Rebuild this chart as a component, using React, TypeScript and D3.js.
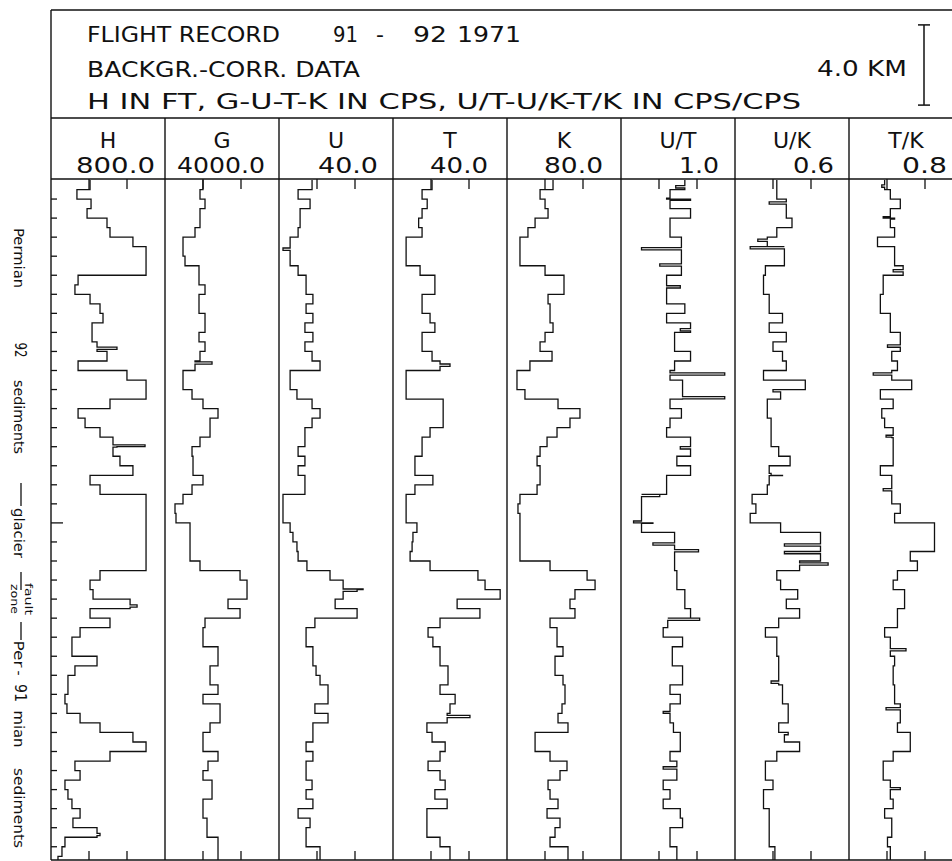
import React from "react";
import * as d3 from "d3";

// flight record 91 - 92, readings every 0.5 km down the flight line
const STEP = 0.5;
const SPIKE_W = 0.12;

const columns = ["H", "G", "U", "T", "K", "U/T", "U/K", "T/K"];
const fullScale = [800, 4000, 40, 40, 80, 1.0, 0.6, 0.8];
const scaleLabels = ["800.0", "4000.0", "40.0", "40.0", "80.0", "1.0", "0.6", "0.8"];

const hFt = [274, 182, 281, 253, 393, 414, 575, 667, 667, 667, 190, 168, 274, 344, 365, 288, 288, 323, 393, 190,
  533, 667, 667, 414, 190, 239, 344, 435, 463, 484, 575, 274, 344, 667, 667, 667, 667, 667, 667, 667,
  667, 344, 274, 295, 555, 274, 414, 204, 147, 147, 323, 168, 119, 119, 98, 112, 204, 344, 575, 667,
  414, 168, 204, 98, 119, 147, 204, 154, 323, 98, 77, 49];
const gCps = [1333, 1228, 1404, 1228, 1228, 1053, 632, 632, 702, 1193, 1193, 1404, 1193, 1193, 1404, 1404, 1193, 1404, 1228, 1053,
  632, 632, 948, 1333, 1860, 1580, 1580, 1228, 948, 983, 983, 1333, 948, 632, 351, 386, 878, 878, 878, 878,
  1228, 2633, 2878, 2878, 2211, 2633, 1404, 1333, 1333, 1860, 1860, 1580, 1580, 1860, 1333, 1931, 1931, 1580, 1333, 1333,
  1860, 1509, 1333, 1650, 1650, 1333, 1333, 1474, 1474, 1860, 1860, 1860];
const uCps = [11.6, 6.7, 10.9, 7.4, 7.4, 6.7, 3.9, 3.9, 3.9, 6.7, 9.5, 9.5, 11.9, 9.5, 11.9, 9.1, 11.9, 9.1, 11.6, 14.4,
  3.9, 3.9, 6.3, 11.6, 14.4, 11.6, 9.1, 9.1, 6.7, 9.1, 6.7, 9.1, 9.1, 1.4, 1.4, 1.4, 3.9, 4.9, 6.3, 6.7,
  9.8, 17.9, 22.5, 27.4, 19.7, 27.4, 12.6, 9.5, 9.5, 11.9, 11.9, 13.0, 14.4, 17.2, 17.2, 12.6, 17.2, 11.9, 11.9, 9.5,
  11.9, 9.5, 9.5, 11.6, 9.5, 11.9, 6.7, 10.9, 9.5, 9.5, 14.4, 14.4];
const tCps = [13.7, 10.2, 12.0, 10.2, 9.0, 10.2, 4.6, 4.6, 4.6, 9.5, 14.7, 14.7, 10.2, 10.2, 13.0, 14.7, 10.2, 10.2, 13.7, 16.5,
  4.6, 4.6, 4.6, 17.6, 17.6, 17.6, 13.0, 10.2, 10.2, 7.7, 7.7, 14.0, 7.7, 4.6, 4.6, 4.6, 8.4, 7.0, 6.7, 6.0,
  13.0, 29.8, 32.3, 37.6, 22.5, 30.5, 16.5, 12.3, 14.0, 16.5, 16.5, 19.3, 19.3, 16.5, 21.8, 20.0, 19.0, 11.9, 13.7, 18.3,
  16.5, 12.3, 16.5, 18.3, 14.7, 19.0, 11.9, 11.9, 11.9, 16.5, 20.0, 20.0];
const kCps = [32.3, 23.2, 26.7, 28.8, 19.7, 14.7, 9.1, 9.1, 9.1, 26.7, 40.0, 40.0, 28.8, 30.2, 30.2, 32.3, 26.7, 23.2, 31.6, 16.1,
  7.0, 7.0, 12.6, 35.8, 51.2, 44.2, 35.1, 28.1, 23.2, 21.1, 23.2, 23.2, 21.1, 9.1, 7.7, 9.1, 9.1, 9.1, 9.1, 9.1,
  30.2, 56.2, 61.8, 47.7, 44.2, 47.7, 30.2, 35.1, 35.1, 39.3, 33.7, 33.7, 39.3, 40.7, 40.7, 38.6, 35.8, 42.8, 19.7, 19.7,
  30.2, 42.1, 37.2, 28.8, 30.2, 35.8, 28.1, 37.2, 33.7, 30.2, 42.8, 42.8];
const utRatio = [0.56, 0.43, 0.61, 0.61, 0.43, 0.43, 0.53, 0.53, 0.53, 0.34, 0.40, 0.40, 0.40, 0.56, 0.40, 0.61, 0.47, 0.47, 0.61, 0.47,
  0.43, 0.54, 0.54, 0.43, 0.53, 0.43, 0.40, 0.61, 0.61, 0.49, 0.61, 0.40, 0.40, 0.18, 0.18, 0.18, 0.28, 0.47, 0.47, 0.68,
  0.47, 0.49, 0.49, 0.56, 0.56, 0.61, 0.41, 0.37, 0.54, 0.45, 0.45, 0.54, 0.54, 0.43, 0.52, 0.43, 0.43, 0.46, 0.52, 0.52,
  0.43, 0.49, 0.49, 0.37, 0.43, 0.37, 0.52, 0.54, 0.43, 0.43, 0.49, 0.49];
const ukRatio = [0.22, 0.22, 0.27, 0.27, 0.30, 0.22, 0.17, 0.26, 0.26, 0.16, 0.15, 0.15, 0.18, 0.18, 0.25, 0.18, 0.27, 0.20, 0.25, 0.27,
  0.15, 0.37, 0.24, 0.17, 0.17, 0.19, 0.19, 0.19, 0.23, 0.29, 0.18, 0.25, 0.17, 0.09, 0.11, 0.08, 0.24, 0.45, 0.45, 0.45,
  0.34, 0.22, 0.24, 0.33, 0.27, 0.34, 0.23, 0.16, 0.22, 0.22, 0.23, 0.23, 0.23, 0.25, 0.25, 0.28, 0.28, 0.23, 0.26, 0.34,
  0.22, 0.16, 0.16, 0.20, 0.15, 0.15, 0.18, 0.18, 0.18, 0.18, 0.21, 0.21];
const tkRatio = [0.25, 0.29, 0.36, 0.29, 0.32, 0.32, 0.20, 0.32, 0.32, 0.38, 0.24, 0.24, 0.22, 0.22, 0.29, 0.29, 0.36, 0.36, 0.30, 0.34,
  0.30, 0.44, 0.22, 0.31, 0.23, 0.25, 0.31, 0.30, 0.31, 0.31, 0.22, 0.30, 0.30, 0.30, 0.36, 0.32, 0.60, 0.60, 0.60, 0.43,
  0.48, 0.34, 0.31, 0.39, 0.39, 0.34, 0.34, 0.25, 0.29, 0.29, 0.32, 0.31, 0.31, 0.32, 0.32, 0.36, 0.36, 0.34, 0.43, 0.43,
  0.31, 0.24, 0.24, 0.29, 0.29, 0.31, 0.25, 0.30, 0.30, 0.27, 0.29, 0.29];

// single-reading excursions: [km, value]
const hSpikes = [[8.77, 463], [13.9, 660], [22.3, 604], [34.3, 344]];
const gSpikes = [[9.55, 1650]];
const uSpikes = [[3.57, 1.4], [21.47, 29.5]];
const tSpikes = [[9.66, 20.0], [28.1, 27.0]];
const kSpikes: number[][] = [];
const utSpikes = [[0.3, 0.48], [0.95, 0.40], [3.55, 0.18], [4.4, 0.34], [5.55, 0.52], [7.8, 0.52], [10.12, 0.91], [11.37, 0.91],
  [14.0, 0.52], [16.5, 0.34], [17.9, 0.11], [19.05, 0.28], [19.4, 0.68], [23.0, 0.69], [27.9, 0.37], [30.8, 0.37]];
const ukSpikes = [[1.15, 0.18], [3.1, 0.12], [3.5, 0.08], [11.0, 0.20], [15.4, 0.19], [19.1, 0.26], [19.5, 0.26], [20.1, 0.49],
  [26.3, 0.19], [29.0, 0.28]];
const tkSpikes = [[0.26, 0.23], [1.93, 0.24], [4.7, 0.31], [8.66, 0.27], [10.12, 0.17], [13.4, 0.26], [16.2, 0.24],
  [24.6, 0.40], [27.7, 0.26], [31.9, 0.36]];

const series = [hFt, gCps, uCps, tCps, kCps, utRatio, ukRatio, tkRatio];
const spikes = [hSpikes, gSpikes, uSpikes, tSpikes, kSpikes, utSpikes, ukSpikes, tkSpikes];

const FONT = "'DejaVu Sans', 'Liberation Sans', sans-serif";

const left = 51;
const colW = 114;
const top = 10;
const headBottom = 118;
const colHeadBottom = 179;
const bottom = 860;

const y = d3.scaleLinear().domain([0, 36]).range([180, 180 + 36 * 19.05]);

function buildSteps(samples: number[], extra: number[][]) {
  const pts: [number, number][] = samples.map((v, i) => [i * STEP, v]);
  extra.forEach(([k, v]) => {
    const base = samples[Math.min(samples.length - 1, Math.floor(k / STEP))];
    pts.push([k, v], [k + SPIKE_W, base]);
  });
  pts.sort((a, b) => a[0] - b[0]);
  pts.push([samples.length * STEP, samples[samples.length - 1]]);
  return pts;
}

const sideLabels = [
  { t: "Permian", x: 19, y: 258, len: 60, fs: 14 },
  { t: "92", x: 20, y: 350, len: 15, fs: 15 },
  { t: "sediments", x: 19, y: 417, len: 74, fs: 14 },
  { t: "glacier", x: 19, y: 533, len: 50, fs: 14 },
  { t: "fault", x: 28, y: 599, len: 32, fs: 11 },
  { t: "zone", x: 14, y: 599, len: 30, fs: 11 },
  { t: "Per", x: 19, y: 654, len: 27, fs: 14 },
  { t: "-", x: 19, y: 673, len: 0, fs: 14 },
  { t: "91", x: 20, y: 693, len: 18, fs: 15 },
  { t: "mian", x: 19, y: 729, len: 37, fs: 14 },
  { t: "sediments", x: 19, y: 808, len: 80, fs: 14 },
];
const sideBars = [[483, 506], [572, 590], [622, 640]];

const headerTexts = [
  { t: "FLIGHT RECORD", x: 87, y: 42, len: 193 },
  { t: "91", x: 333, y: 42, len: 25 },
  { t: "-", x: 376, y: 42, len: 0 },
  { t: "92", x: 413, y: 42, len: 34 },
  { t: "1971", x: 457, y: 42, len: 64 },
  { t: "BACKGR.-CORR. DATA", x: 87, y: 77, len: 273 },
  { t: "H IN FT, G-U-T-K IN CPS, U/T-U/K-T/K IN CPS/CPS", x: 87, y: 109, len: 714 },
  { t: "4.0 KM", x: 817, y: 76, len: 90 },
];
const valueX = [76, 177, 318, 430, 544, 679, 793, 902];
const valueLen = [79, 88, 60, 58, 59, 40, 41, 45];

export default function App() {
  const colLeft = (i: number) => left + i * colW;
  const kmTicks = d3.range(1, 36);
  const barMid = 65;
  const barHalf = (y(4) - y(0)) / 2 + 2;

  return (
    <svg
      width={952}
      height={861}
      style={{ position: "absolute", left: 0, top: 0, background: "#fff" }}
      fontFamily={FONT}
    >
      <defs>
        <clipPath id="plotClip">
          <rect x={left} y={colHeadBottom} width={952 - left} height={bottom - colHeadBottom} />
        </clipPath>
      </defs>
      <rect x={0} y={0} width={952} height={861} fill="#fff" />

      {/* frame */}
      <g stroke="#111" strokeWidth={1.4} fill="none">
        <line x1={left} y1={top} x2={960} y2={top} />
        <line x1={left} y1={headBottom} x2={960} y2={headBottom} />
        <line x1={left} y1={colHeadBottom} x2={960} y2={colHeadBottom} />
        <line x1={left} y1={bottom} x2={960} y2={bottom} />
        <line x1={left} y1={top} x2={left} y2={bottom} />
        {columns.slice(1).map((c, i) => (
          <line key={c} x1={colLeft(i + 1)} y1={headBottom} x2={colLeft(i + 1)} y2={bottom} />
        ))}
      </g>

      {/* header */}
      <g fontSize={22} fill="#111">
        {headerTexts.map((h) => (
          <text key={h.t + h.x} x={h.x} y={h.y} {...(h.len ? { textLength: h.len, lengthAdjust: "spacingAndGlyphs" } : {})}>
            {h.t}
          </text>
        ))}
      </g>
      <g stroke="#111" strokeWidth={1.5}>
        <line x1={924} y1={barMid - barHalf} x2={924} y2={barMid + barHalf} />
        <line x1={918} y1={barMid - barHalf} x2={930} y2={barMid - barHalf} />
        <line x1={918} y1={barMid + barHalf} x2={930} y2={barMid + barHalf} />
      </g>

      {/* column heads */}
      <g fontSize={22} fill="#111">
        {columns.map((c, i) => (
          <g key={c}>
            <text x={colLeft(i) + colW / 2} y={148} textAnchor="middle">{c}</text>
            <text x={valueX[i]} y={173} textLength={valueLen[i]} lengthAdjust="spacingAndGlyphs">
              {scaleLabels[i]}
            </text>
          </g>
        ))}
      </g>

      {/* distance ticks */}
      <g stroke="#111" strokeWidth={1.3}>
        {kmTicks.map((k) => (
          <line key={k} x1={left} y1={y(k)} x2={left + (k === 18 ? 12 : 6)} y2={y(k)} />
        ))}
      </g>

      {/* traces */}
      {series.map((s, i) => {
        const xs = d3.scaleLinear().domain([0, fullScale[i]]).range([colLeft(i), colLeft(i) + colW]);
        const line = d3
          .line<[number, number]>()
          .x((d) => xs(d[1]))
          .y((d) => y(d[0]))
          .curve(d3.curveStepBefore);
        const tks = [fullScale[i] / 3, (2 * fullScale[i]) / 3];
        return (
          <g key={columns[i]}>
            <g stroke="#111" strokeWidth={1.3}>
              {tks.map((t) => (
                <g key={t}>
                  <line x1={xs(t)} y1={colHeadBottom} x2={xs(t)} y2={colHeadBottom + 10} />
                  <line x1={xs(t)} y1={bottom - 9} x2={xs(t)} y2={bottom} />
                </g>
              ))}
            </g>
            <path
              d={line(buildSteps(s, spikes[i])) || ""}
              fill="none"
              stroke="#111"
              strokeWidth={1.3}
              clipPath="url(#plotClip)"
            />
          </g>
        );
      })}

      {/* geology annotations */}
      <g fill="#111">
        {sideLabels.map((l) => (
          <text
            key={l.t + l.y}
            transform={`translate(${l.x},${l.y}) rotate(90)`}
            textAnchor="middle"
            dominantBaseline="central"
            fontSize={l.fs}
            {...(l.len ? { textLength: l.len, lengthAdjust: "spacingAndGlyphs" } : {})}
          >
            {l.t}
          </text>
        ))}
      </g>
      <g stroke="#111" strokeWidth={1.3}>
        {sideBars.map(([a, b]) => (
          <line key={a} x1={21} y1={a} x2={21} y2={b} />
        ))}
      </g>
    </svg>
  );
}
